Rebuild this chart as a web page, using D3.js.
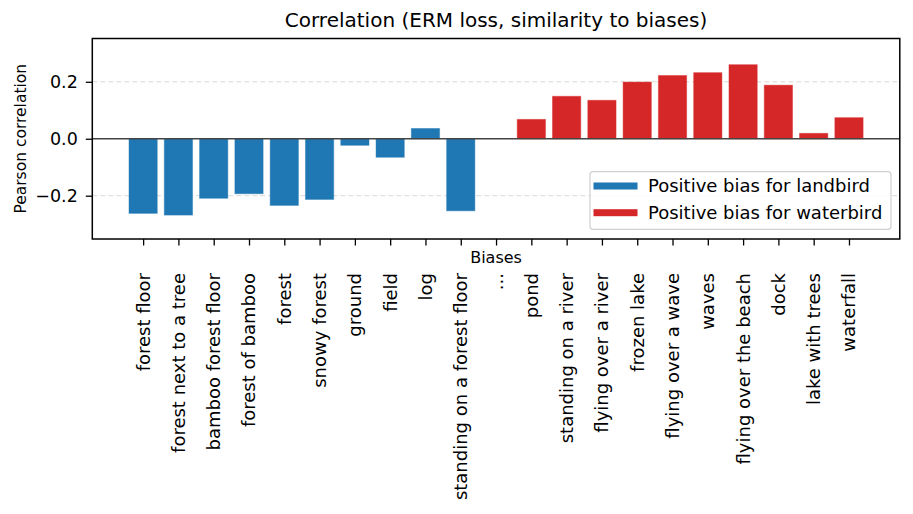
<!DOCTYPE html>
<html>
<head>
<meta charset="utf-8">
<script src="https://cdn.jsdelivr.net/npm/d3@7"></script>
<style>
  body { margin: 0; background: #fff; }
  text { font-family: "DejaVu Sans", sans-serif; fill: #000; }
</style>
</head>
<body>
<div id="container"></div>
<script>
var biases = [
  "forest floor", "forest next to a tree", "bamboo forest floor", "forest of bamboo",
  "forest", "snowy forest", "ground", "field", "log", "standing on a forest floor",
  "...",
  "pond", "standing on a river", "flying over a river", "frozen lake", "flying over a wave",
  "waves", "flying over the beach", "dock", "lake with trees", "waterfall"
];
var correlation = [
  -0.262, -0.268, -0.209, -0.193, -0.234, -0.213, -0.023, -0.065, 0.036, -0.253,
  null,
  0.068, 0.149, 0.135, 0.199, 0.222, 0.232, 0.260, 0.188, 0.019, 0.074
];
var group = [
  "land", "land", "land", "land", "land", "land", "land", "land", "land", "land",
  null,
  "water", "water", "water", "water", "water", "water", "water", "water", "water", "water"
];
var yTicks = [-0.2, 0.0, 0.2];
var legendLabels = ["Positive bias for landbird", "Positive bias for waterbird"];

var width = 913;
var height = 514;
var plotLeft = 92.3, plotRight = 899.8, plotTop = 38.5, plotBottom = 239;

var color = { land: "#1f77b4", water: "#d62728" };

var svg = d3
  .select("#container")
  .append("svg")
  .attr("width", width)
  .attr("height", height);

var x = d3
  .scaleLinear()
  .domain([-1.44, biases.length - 1 + 1.44])
  .range([plotLeft, plotRight]);

var y = d3
  .scaleLinear()
  .domain([-0.352, 0.352])
  .range([plotBottom, plotTop]);

var barW = x(0.4) - x(-0.4);

// grid
svg
  .append("g")
  .selectAll("line")
  .data(yTicks.filter(d => d !== 0))
  .enter()
  .append("line")
  .attr("x1", plotLeft)
  .attr("x2", plotRight)
  .attr("y1", d => y(d))
  .attr("y2", d => y(d))
  .attr("stroke", "#d8d8d8")
  .attr("stroke-width", 1)
  .attr("stroke-dasharray", "5,3");

var data = biases.map((b, i) => ({ name: b, value: correlation[i], group: group[i], i: i }));

svg
  .append("g")
  .selectAll("rect")
  .data(data.filter(d => d.value !== null))
  .enter()
  .append("rect")
  .attr("x", d => x(d.i) - barW / 2)
  .attr("width", barW)
  .attr("y", d => y(Math.max(0, d.value)))
  .attr("height", d => Math.abs(y(d.value) - y(0)))
  .attr("fill", d => color[d.group])
  .attr("stroke", d => color[d.group])
  .attr("stroke-opacity", 0.45)
  .attr("stroke-width", 1);

// zero line
svg
  .append("line")
  .attr("x1", plotLeft)
  .attr("x2", plotRight)
  .attr("y1", y(0))
  .attr("y2", y(0))
  .attr("stroke", "#444")
  .attr("stroke-width", 1.4);

// frame
svg
  .append("rect")
  .attr("x", plotLeft)
  .attr("y", plotTop)
  .attr("width", plotRight - plotLeft)
  .attr("height", plotBottom - plotTop)
  .attr("fill", "none")
  .attr("stroke", "#000")
  .attr("stroke-width", 1.5);

// y axis
var yAxis = svg
  .append("g")
  .attr("transform", "translate(" + plotLeft + ",0)")
  .call(d3.axisLeft(y).tickValues(yTicks).tickSize(6.5).tickPadding(8)
    .tickFormat(d => d3.format(".1f")(d).replace("-", "\u2212")));
yAxis.select(".domain").remove();
yAxis.selectAll("line").attr("stroke", "#000").attr("stroke-width", 1.3);
yAxis.selectAll("text")
  .style("font-family", "DejaVu Sans")
  .style("font-size", "17.5px")
  .attr("fill", "#000");

// x axis
var xAxis = svg
  .append("g")
  .attr("transform", "translate(0," + plotBottom + ")")
  .call(d3.axisBottom(x).tickValues(d3.range(biases.length)).tickSize(6.5)
    .tickFormat(""));
xAxis.select(".domain").remove();
xAxis.selectAll("line").attr("stroke", "#000").attr("stroke-width", 1.3);

svg
  .append("g")
  .selectAll("text")
  .data(biases)
  .enter()
  .append("text")
  .attr("transform", (d, i) => "translate(" + x(i) + ",273) rotate(-90)")
  .attr("text-anchor", "end")
  .attr("dy", "0.36em")
  .style("font-size", "18px")
  .text(d => d);

svg
  .append("text")
  .attr("x", x(10))
  .attr("y", 263)
  .attr("text-anchor", "middle")
  .style("font-size", "16px")
  .text("Biases");

svg
  .append("text")
  .attr("transform", "translate(26," + y(0) + ") rotate(-90)")
  .attr("text-anchor", "middle")
  .style("font-size", "15.5px")
  .text("Pearson correlation");

svg
  .append("text")
  .attr("x", (plotLeft + plotRight) / 2)
  .attr("y", 27)
  .attr("text-anchor", "middle")
  .style("font-size", "20px")
  .text("Correlation (ERM loss, similarity to biases)");

// legend
var legend = svg.append("g");
legend
  .append("rect")
  .attr("x", 590)
  .attr("y", 171.7)
  .attr("width", 301)
  .attr("height", 57.6)
  .attr("rx", 3)
  .attr("fill", "#fff")
  .attr("fill-opacity", 0.8)
  .attr("stroke", "#d0d0d0")
  .attr("stroke-width", 1.2);

var legendRows = legend
  .selectAll("g")
  .data(legendLabels)
  .enter()
  .append("g")
  .attr("transform", (d, i) => "translate(0," + (186 + i * 26.7) + ")");

legendRows
  .append("rect")
  .attr("x", 593.5)
  .attr("y", -3.5)
  .attr("width", 44)
  .attr("height", 7)
  .attr("fill", (d, i) => i === 0 ? color.land : color.water);

legendRows
  .append("text")
  .attr("x", 648)
  .attr("dy", "0.36em")
  .style("font-size", "18px")
  .text(d => d);
</script>
</body>
</html>
